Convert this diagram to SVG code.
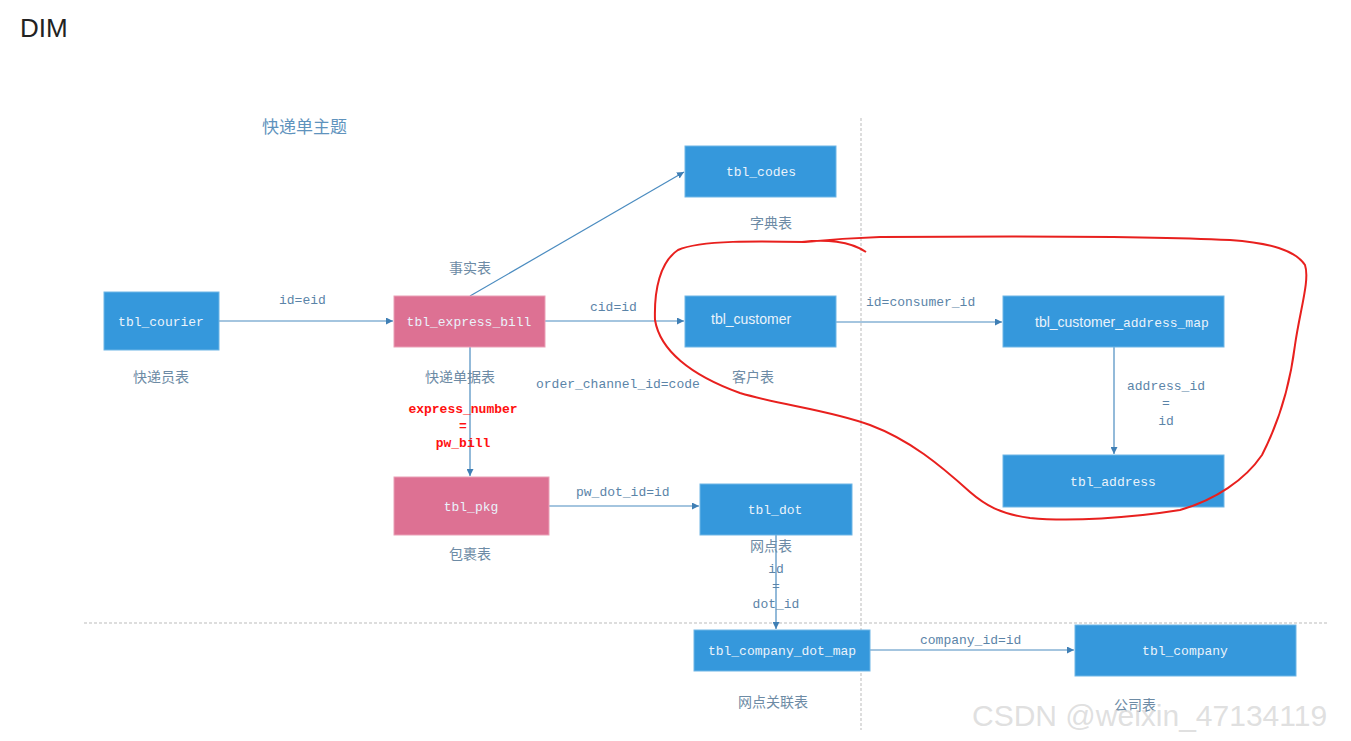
<svg xmlns="http://www.w3.org/2000/svg" width="1351" height="741" viewBox="0 0 1351 741">
<defs>
<marker id="arr" viewBox="0 0 8 8" refX="8" refY="4" markerWidth="7" markerHeight="7" markerUnits="userSpaceOnUse" orient="auto">
<path d="M0,0 L8,4 L0,8 z" fill="#3f7fb5"/>
</marker>
<style>
.blue{fill:#3598dc;stroke:#6fb6e6;stroke-width:1}
.pink{fill:#dd7193;stroke:#eaa0b6;stroke-width:1}
.bt{font-family:"Liberation Mono",monospace;font-size:13px;fill:#eaf3fb;text-anchor:middle}
.bs{font-family:"Liberation Sans",sans-serif;font-size:14px;fill:#eaf3fb}
.lbl{font-family:"Liberation Mono",monospace;font-size:13px;fill:#5b84a8}
.cn{font-family:"Noto Sans CJK SC",sans-serif;font-size:14px;fill:#6d8ba5;text-anchor:middle}
.red{font-family:"Liberation Mono",monospace;font-size:13px;font-weight:bold;fill:#ff1010;text-anchor:middle}
.ln{stroke:#4b8cc0;stroke-width:1.2;fill:none}
.dash{stroke:#bbbbbb;stroke-width:1;stroke-dasharray:3,2;fill:none}
</style>
</defs>
<rect width="1351" height="741" fill="#ffffff"/>
<text x="20" y="37" font-family="Liberation Sans,sans-serif" font-size="26" fill="#222">DIM</text>
<text x="262" y="133" font-family="Noto Sans CJK SC,sans-serif" font-size="17" fill="#5f93bd">快递单主题</text>
<line class="dash" x1="861" y1="118" x2="861" y2="730"/>
<line class="dash" x1="84" y1="623" x2="1329" y2="623"/>
<g id="connectors">
<line class="ln" x1="219" y1="321" x2="393" y2="321" marker-end="url(#arr)"/>
<line class="ln" x1="470" y1="296" x2="684" y2="172" marker-end="url(#arr)"/>
<line class="ln" x1="545" y1="321" x2="684" y2="321" marker-end="url(#arr)"/>
<line class="ln" x1="836" y1="322" x2="1002" y2="322" marker-end="url(#arr)"/>
<line class="ln" x1="1114" y1="347" x2="1114" y2="454" marker-end="url(#arr)"/>
<line class="ln" x1="470" y1="347" x2="470" y2="476" marker-end="url(#arr)"/>
<line class="ln" x1="549" y1="506" x2="699" y2="506" marker-end="url(#arr)"/>
<line class="ln" x1="776" y1="535" x2="776" y2="629" marker-end="url(#arr)"/>
<line class="ln" x1="870" y1="650" x2="1074" y2="650" marker-end="url(#arr)"/>
<text class="lbl" x="279" y="304">id=eid</text>
<text class="lbl" x="590" y="311">cid=id</text>
<text class="lbl" x="536" y="388">order_channel_id=code</text>
<text class="lbl" x="866" y="306">id=consumer_id</text>
<text class="lbl" x="1166" y="390" text-anchor="middle">address_id</text>
<text class="lbl" x="1166" y="407" text-anchor="middle">=</text>
<text class="lbl" x="1166" y="425" text-anchor="middle">id</text>
<text class="red" x="463" y="413">express_number</text>
<text class="red" x="463" y="430">=</text>
<text class="red" x="463" y="447">pw_bill</text>
<text class="lbl" x="576" y="496">pw_dot_id=id</text>
<text class="lbl" x="776" y="573" text-anchor="middle">id</text>
<text class="lbl" x="776" y="590" text-anchor="middle">=</text>
<text class="lbl" x="776" y="608" text-anchor="middle">dot_id</text>
<text class="lbl" x="920" y="644">company_id=id</text>
</g>
<g id="n-courier"><rect class="blue" x="104" y="292" width="115" height="58"/><text class="bt" x="161" y="326">tbl_courier</text><text class="cn" x="161" y="382">快递员表</text></g>
<g id="n-express-bill"><rect class="pink" x="394" y="296" width="151" height="51"/><text class="bt" x="469" y="326">tbl_express_bill</text><text class="cn" x="460" y="382">快递单据表</text><text class="cn" x="470" y="273">事实表</text></g>
<g id="n-codes"><rect class="blue" x="685" y="146" width="151" height="51"/><text class="bt" x="761" y="176">tbl_codes</text><text class="cn" x="771" y="228">字典表</text></g>
<g id="n-customer"><rect class="blue" x="685" y="296" width="151" height="51"/><text class="bs" x="711" y="324">tbl_customer</text><text class="cn" x="753" y="382">客户表</text></g>
<g id="n-cam"><rect class="blue" x="1003" y="296" width="221" height="51"/><text x="1035" y="327"><tspan class="bs">tbl_customer_</tspan><tspan class="bt" style="text-anchor:start">address_map</tspan></text></g>
<g id="n-address"><rect class="blue" x="1003" y="455" width="221" height="52"/><text class="bt" x="1113" y="486">tbl_address</text></g>
<g id="n-pkg"><rect class="pink" x="394" y="477" width="155" height="58"/><text class="bt" x="471" y="511">tbl_pkg</text><text class="cn" x="470" y="559">包裹表</text></g>
<g id="n-dot"><rect class="blue" x="700" y="484" width="152" height="51"/><text class="bt" x="775" y="514">tbl_dot</text><text class="cn" x="771" y="551">网点表</text></g>
<g id="n-cdm"><rect class="blue" x="694" y="630" width="176" height="41"/><text class="bt" x="782" y="655">tbl_company_dot_map</text><text class="cn" x="773" y="707">网点关联表</text></g>
<g id="n-company"><rect class="blue" x="1075" y="625" width="221" height="51"/><text class="bt" x="1185" y="655">tbl_company</text><text class="cn" x="1135" y="710">公司表</text></g>
<path d="M866,252 C850,241 825,239 802,242 M805,242 C760,241 700,240 678,250 C660,262 654,290 655,320 C660,350 690,375 740,393 C780,405 830,410 870,425 C910,440 940,465 970,492 C985,505 1000,514 1030,518 C1070,522 1130,518 1180,510 C1215,500 1245,480 1262,455 C1280,420 1290,385 1295,345 C1300,310 1310,280 1305,265 C1295,250 1270,243 1230,240 C1150,236 1000,236 880,237 C850,238 825,240 805,242" fill="none" stroke="#e8201e" stroke-width="2"/>
<text x="972" y="726" font-family="Liberation Sans,sans-serif" font-size="30" fill="#d8d8d8" fill-opacity="0.8">CSDN @weixin_47134119</text>
</svg>
